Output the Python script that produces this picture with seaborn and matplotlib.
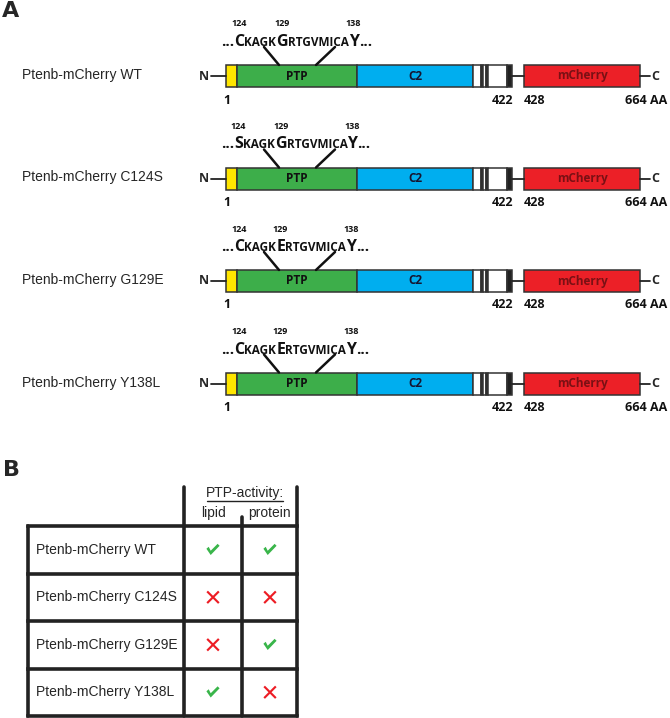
import numpy as np
import pandas as pd
import seaborn as sns
import matplotlib.pyplot as plt
from matplotlib.patches import Rectangle
from matplotlib.path import Path

sns.set_theme(style='white')
plt.rcParams['font.family'] = ['Liberation Sans', 'DejaVu Sans']

# dados
constructs = ['Ptenb-mCherry WT', 'Ptenb-mCherry C124S',
              'Ptenb-mCherry G129E', 'Ptenb-mCherry Y138L']
res_124 = ['C', 'S', 'C', 'C']
res_129 = ['G', 'G', 'E', 'E']
res_138 = ['Y', 'Y', 'Y', 'Y']
seq_mid_a = 'KAGK'
seq_mid_b = 'RTGVMICA'
seq_numbers = ['124', '129', '138']
aa_labels = ['1', '422', '428', '664 AA']
lipid = [True, False, False, True]
protein = [True, False, True, False]

# dominios (inicio, fim em unidades do esquema, cor, nome, cor do texto)
dom_start = [226, 237, 357, 473, 481, 483, 486, 488, 507, 524]
dom_end = [237, 357, 473, 481, 483, 486, 488, 507, 512, 640]
dom_color = ['#FFE600', '#3DAE4A', '#00AEEF', 'white', '#222222', 'white',
             '#222222', 'white', '#222222', '#EC2027']
dom_name = ['', 'PTP', 'C2', '', '', '', '', '', '', 'mCherry']
dom_text_color = ['k', '#111111', '#151530', 'k', 'k', 'k', 'k', 'k', 'k', '#7A1014']
aa_label_x = [227, 503, 534, 646]

green = '#39B54A'
red = '#ED1C24'

fig = plt.figure(figsize=(6.7, 7.18), dpi=100)
ax = fig.add_axes([0, 0, 1, 1])
ax.set_xlim(0, 670)
ax.set_ylim(718, 0)
ax.axis('off')
renderer = fig.canvas.get_renderer()

bar_h = 22
seq_font = 'Open Sans'


def draw_sequence(x, y, pieces):
    centers = []
    for txt, size in pieces:
        t = ax.text(x, y, txt, fontsize=size, fontweight='bold', family=seq_font,
                    ha='left', va='baseline', color='#111111')
        w = t.get_window_extent(renderer).width
        centers.append(x + w / 2)
        x += w
    return centers


ax.text(2, 11, 'A', fontsize=16, fontweight='heavy', family='DejaVu Sans', va='center')

for i, name in enumerate(constructs):
    yc = 76 + i * 102.5
    top = yc - bar_h / 2
    ax.text(22, yc - 1, name, fontsize=10, va='center', ha='left')

    # linha N e C
    ax.plot([211, 226], [yc, yc], color='#222222', lw=1.3)
    ax.plot([512, 524], [yc, yc], color='#222222', lw=1.3)
    ax.plot([640, 650], [yc, yc], color='#222222', lw=1.3)
    ax.text(204, yc, 'N', fontsize=9, fontweight='bold', family=seq_font, ha='center', va='center')
    ax.text(655, yc, 'C', fontsize=9, fontweight='bold', family=seq_font, ha='center', va='center')

    for s, e, c, n, tc in zip(dom_start, dom_end, dom_color, dom_name, dom_text_color):
        ax.add_patch(Rectangle((s, top), e - s, bar_h, facecolor=c,
                               edgecolor='#333333', lw=1.1))
        if n:
            ax.text((s + e) / 2, yc, n, fontsize=8.5, fontweight='bold', family=seq_font,
                    ha='center', va='center', color=tc)

    for lab, lx in zip(aa_labels, aa_label_x):
        ax.text(lx, yc + 24, lab, fontsize=9, fontweight='bold', family=seq_font,
                ha='center', va='center', color='#111111')

    # sequencia
    base = top - 19
    pieces = [('...', 11), (res_124[i], 11.5), (seq_mid_a, 8.5), (res_129[i], 11.5),
              (seq_mid_b, 8.5), (res_138[i], 11.5), ('...', 11)]
    centers = draw_sequence(221, base, pieces)
    for num, cx in zip(seq_numbers, [centers[1], centers[3], centers[5]]):
        ax.text(cx, base - 22, num, fontsize=6.5, fontweight='bold', family=seq_font,
                ha='center', va='center', color='#111111')
    ax.plot([264, 279], [base + 1, top], color='#111111', lw=1.8)
    ax.plot([335, 316], [base + 1, top], color='#111111', lw=1.8)

# painel B
ax.text(3, 470, 'B', fontsize=16, fontweight='heavy', family='DejaVu Sans', va='center')

row_lines = [526, 573.5, 621, 668.5, 716]
tab_lw = 2.6
for yl in row_lines:
    ax.plot([28, 297], [yl, yl], color='#222222', lw=tab_lw, solid_capstyle='projecting')
ax.plot([28, 28], [526, 716], color='#222222', lw=tab_lw)
ax.plot([184, 184], [487, 716], color='#222222', lw=tab_lw)
ax.plot([242, 242], [517, 716], color='#222222', lw=tab_lw)
ax.plot([297, 297], [487, 716], color='#222222', lw=tab_lw)

ax.text(245, 493, 'PTP-activity:', fontsize=10, ha='center', va='center')
ax.plot([207, 283], [501, 501], color='#222222', lw=1.0)
ax.text(213, 513, 'lipid', fontsize=10, ha='center', va='center')
ax.text(269, 513, 'protein', fontsize=10, ha='center', va='center')

row_centers = [(row_lines[k] + row_lines[k + 1]) / 2 for k in range(4)]
for name, yc in zip(constructs, row_centers):
    ax.text(36, yc, name, fontsize=10, ha='left', va='center')

# marcadores de atividade
check = Path([(-1.0, 0.15), (-0.35, -0.8), (1.0, 0.6), (0.7, 0.9),
              (-0.35, -0.15), (-0.65, 0.45), (-1.0, 0.15)])
a = 0.13
plus = np.array([(a, a), (a, 1), (-a, 1), (-a, a), (-1, a), (-1, -a), (-a, -a),
                 (-a, -1), (a, -1), (a, -a), (1, -a), (1, a), (a, a)])
rot = np.array([[np.cos(np.pi / 4), -np.sin(np.pi / 4)],
                [np.sin(np.pi / 4), np.cos(np.pi / 4)]])
cross = Path(plus @ rot.T)

df_marks = pd.DataFrame({
    'x': [213] * 4 + [270] * 4,
    'y': row_centers * 2,
    'ativo': ['sim' if v else 'nao' for v in lipid + protein],
})
sns.scatterplot(data=df_marks, x='x', y='y', hue='ativo', style='ativo',
                markers={'sim': check, 'nao': cross},
                palette={'sim': green, 'nao': red}, s=90, linewidth=0,
                legend=False, ax=ax)
ax.set_xlim(0, 670)
ax.set_ylim(718, 0)
ax.axis('off')

fig.savefig('out.png', dpi=100)
